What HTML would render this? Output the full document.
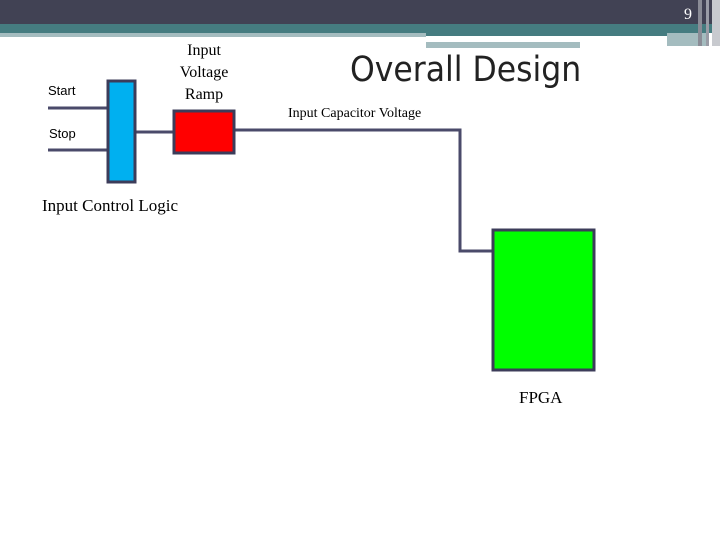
<!DOCTYPE html>
<html><head><style>
body{margin:0;width:720px;height:540px;background:#fff;position:relative;overflow:hidden;font-family:"Liberation Serif",serif}
div{position:absolute}
.t{white-space:nowrap}
</style></head><body>
<div style="left:0;top:0;width:720px;height:24px;background:#414254"></div>
<div style="left:0;top:24px;width:720px;height:9px;background:#457c80"></div>
<div style="left:0;top:33px;width:426px;height:4px;background:#a4bcbf"></div>
<div style="left:426px;top:33px;width:280px;height:3px;background:#457c80"></div>
<div style="left:426px;top:42px;width:154px;height:6px;background:#a4bcbf"></div>
<div style="left:667px;top:33px;width:40px;height:13px;background:#a4bcbf"></div>
<div style="left:698px;top:0;width:4px;height:46px;background:#8a8c96"></div>
<div style="left:706px;top:0;width:3px;height:46px;background:#9a9ca6"></div>
<div style="left:712px;top:0;width:8px;height:46px;background:#c8cacf"></div>
<div class="t" style="left:684px;top:6px;color:#fff;font-size:16px">9</div>

<div class="t" style="left:350px;top:50px;font-family:'DejaVu Sans Condensed','DejaVu Sans',sans-serif;font-size:35px;color:#222">Overall Design</div>
<div class="t" style="left:288px;top:106px;font-size:14px">Input Capacitor Voltage</div>
<div class="t" style="left:48px;top:83px;font-size:13px;font-family:'Liberation Sans',sans-serif">Start</div>
<div class="t" style="left:49px;top:126px;font-size:13px;font-family:'Liberation Sans',sans-serif">Stop</div>
<div style="left:160px;top:40px;width:88px;text-align:center;font-size:16px;line-height:22px">Input<br>Voltage<br>Ramp</div>
<div class="t" style="left:42px;top:196px;font-size:17px">Input Control Logic</div>
<div class="t" style="left:519px;top:388px;font-size:17px">FPGA</div>

<svg width="720" height="540" style="position:absolute;left:0;top:0">
<g stroke="#4a4a6a" stroke-width="3" fill="none">
<line x1="48" y1="108" x2="108" y2="108"/>
<line x1="48" y1="150" x2="108" y2="150"/>
<line x1="135" y1="132" x2="174" y2="132"/>
<polyline points="234,130 460,130 460,251 493,251"/>
</g>
<rect x="108" y="81" width="27" height="101" fill="#00b0f0" stroke="#3c3c5a" stroke-width="3"/>
<rect x="174" y="111" width="60" height="42" fill="#ff0000" stroke="#3c3c5a" stroke-width="3"/>
<rect x="493" y="230" width="101" height="140" fill="#00ff00" stroke="#3c3c5a" stroke-width="3"/>
</svg>
</body></html>
